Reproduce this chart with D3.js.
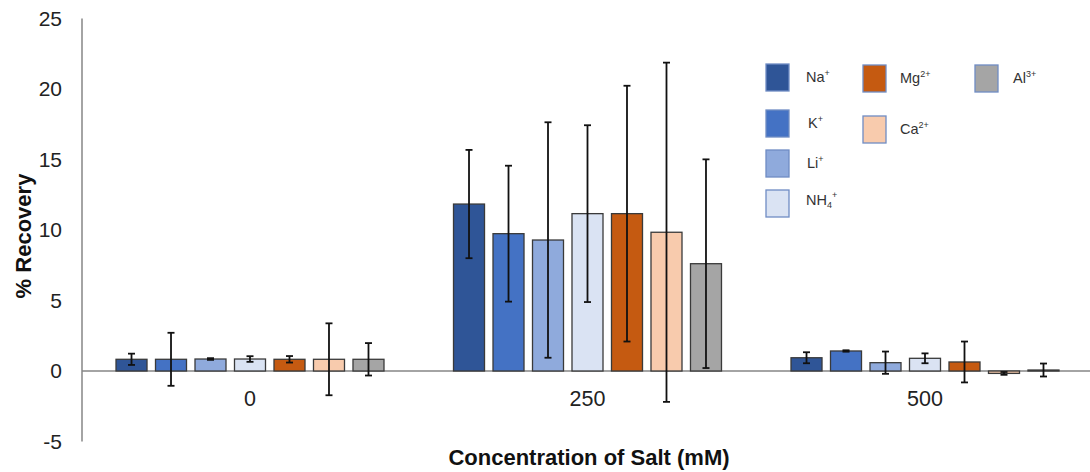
<!DOCTYPE html>
<html>
<head>
<meta charset="utf-8">
<script src="https://cdn.jsdelivr.net/npm/d3@7"></script>
<style>
  html, body { margin: 0; padding: 0; background: #fff; }
  svg { display: block; font-family: "Liberation Sans", Arial, sans-serif; }
</style>
</head>
<body>
<svg id="chart" width="1090" height="472"></svg>
<script>
// ---- data ----
const categories = ["0", "250", "500"];
const seriesNames = ["Na", "K", "Li", "NH4", "Mg", "Ca", "Al"];
const seriesColors = ["#2F5597", "#4472C4", "#8FAADC", "#DAE3F3", "#C55A11", "#F8CBAD", "#A5A5A5"];
const naValues  = [0.83, 11.84, 0.94];
const kValues   = [0.83, 9.74, 1.42];
const liValues  = [0.85, 9.29, 0.59];
const nh4Values = [0.85, 11.16, 0.90];
const mgValues  = [0.83, 11.16, 0.64];
const caValues  = [0.83, 9.84, -0.17];
const alValues  = [0.83, 7.61, 0.07];
const naErr  = [0.40, 3.84, 0.39];
const kErr   = [1.88, 4.82, 0.05];
const liErr  = [0.06, 8.35, 0.79];
const nh4Err = [0.20, 6.27, 0.35];
const mgErr  = [0.23, 9.07, 1.45];
const caErr  = [2.55, 12.03, 0.10];
const alErr  = [1.15, 7.40, 0.46];
const yTicks = [-5, 0, 5, 10, 15, 20, 25];

const allValues = [naValues, kValues, liValues, nh4Values, mgValues, caValues, alValues];
const allErrs = [naErr, kErr, liErr, nh4Err, mgErr, caErr, alErr];

const rows = [];
categories.forEach((c, ci) => {
  seriesNames.forEach((s, si) => {
    rows.push({cat: c, series: s, si, value: allValues[si][ci], err: allErrs[si][ci]});
  });
});

// ---- layout ----
const svg = d3.select("#chart");
const y = d3.scaleLinear().domain([-5, 25]).range([441.5, 18.5]);
const x0 = d3.scaleBand().domain(categories).range([81.25, 1093.75]).padding(0);
const x1 = d3.scaleBand().domain(seriesNames).range([0, x0.bandwidth()])
  .paddingInner(0.215).paddingOuter(0.88);

// y axis line
svg.append("line")
  .attr("x1", 82).attr("x2", 82)
  .attr("y1", y(25)).attr("y2", y(-5))
  .attr("stroke", "#868686").attr("stroke-width", 1.5);

// y tick labels
svg.append("g").selectAll("text").data(yTicks).join("text")
  .attr("x", 62).attr("y", d => y(d))
  .attr("dy", "0.35em")
  .attr("text-anchor", "end")
  .attr("font-size", 21).attr("fill", "#222")
  .text(d => d);

// zero line
svg.append("line")
  .attr("x1", 82).attr("x2", 1090)
  .attr("y1", y(0)).attr("y2", y(0))
  .attr("stroke", "#868686").attr("stroke-width", 1.3);

// bars
const bars = svg.append("g");
bars.selectAll("rect").data(rows).join("rect")
  .attr("x", d => x0(d.cat) + x1(d.series))
  .attr("width", x1.bandwidth())
  .attr("y", d => y(Math.max(0, d.value)))
  .attr("height", d => Math.abs(y(d.value) - y(0)))
  .attr("fill", d => seriesColors[d.si])
  .attr("stroke", "#3a3a3a").attr("stroke-width", 1.3);

// error bars
const eb = svg.append("g").attr("stroke", "#111").attr("stroke-width", 1.8);
rows.forEach(d => {
  const cx = x0(d.cat) + x1(d.series) + x1.bandwidth() / 2;
  const top = y(d.value + d.err), bot = y(d.value - d.err);
  eb.append("line").attr("x1", cx).attr("x2", cx).attr("y1", top).attr("y2", bot);
  eb.append("line").attr("x1", cx - 3.5).attr("x2", cx + 3.5).attr("y1", top).attr("y2", top);
  eb.append("line").attr("x1", cx - 3.5).attr("x2", cx + 3.5).attr("y1", bot).attr("y2", bot);
});

// category labels
svg.append("g").selectAll("text").data(categories).join("text")
  .attr("x", d => x0(d) + x0.bandwidth() / 2)
  .attr("y", 398).attr("dy", "0.35em")
  .attr("text-anchor", "middle")
  .attr("font-size", 21.5).attr("fill", "#222")
  .text(d => d);

// axis titles
svg.append("text")
  .attr("x", 589).attr("y", 457).attr("dy", "0.35em")
  .attr("text-anchor", "middle")
  .attr("font-size", 22).attr("font-weight", "bold").attr("fill", "#111")
  .text("Concentration of Salt (mM)");

svg.append("text")
  .attr("transform", "translate(23,236) rotate(-90)")
  .attr("dy", "0.35em")
  .attr("text-anchor", "middle")
  .attr("font-size", 22).attr("font-weight", "bold").attr("fill", "#111")
  .text("% Recovery");

// legend
const legendItems = [
  {si: 0, base: "Na", sub: "", sup: "+", sx: 766, sy: 64, tx: 806},
  {si: 1, base: "K", sub: "", sup: "+", sx: 766, sy: 110, tx: 808},
  {si: 2, base: "Li", sub: "", sup: "+", sx: 766, sy: 150, tx: 807},
  {si: 3, base: "NH", sub: "4", sup: "+", sx: 766, sy: 190, tx: 806},
  {si: 4, base: "Mg", sub: "", sup: "2+", sx: 863, sy: 65, tx: 900},
  {si: 5, base: "Ca", sub: "", sup: "2+", sx: 863, sy: 116, tx: 900},
  {si: 6, base: "Al", sub: "", sup: "3+", sx: 975, sy: 65, tx: 1013}
];
const leg = svg.append("g");
legendItems.forEach(it => {
  leg.append("rect")
    .attr("x", it.sx).attr("y", it.sy).attr("width", 23).attr("height", 27)
    .attr("fill", seriesColors[it.si])
    .attr("stroke", "#6F8CC4").attr("stroke-width", 1.3);
  const t = leg.append("text")
    .attr("x", it.tx).attr("y", it.si === 3 ? it.sy + 15 : it.sy + 18)
    .attr("font-size", 14.5).attr("fill", "#333");
  t.append("tspan").text(it.base);
  if (it.sub) t.append("tspan").attr("font-size", 9).attr("dy", 3).text(it.sub);
  t.append("tspan").attr("font-size", 9).attr("dy", it.sub ? -10 : -6).text(it.sup);
});
</script>
</body>
</html>
